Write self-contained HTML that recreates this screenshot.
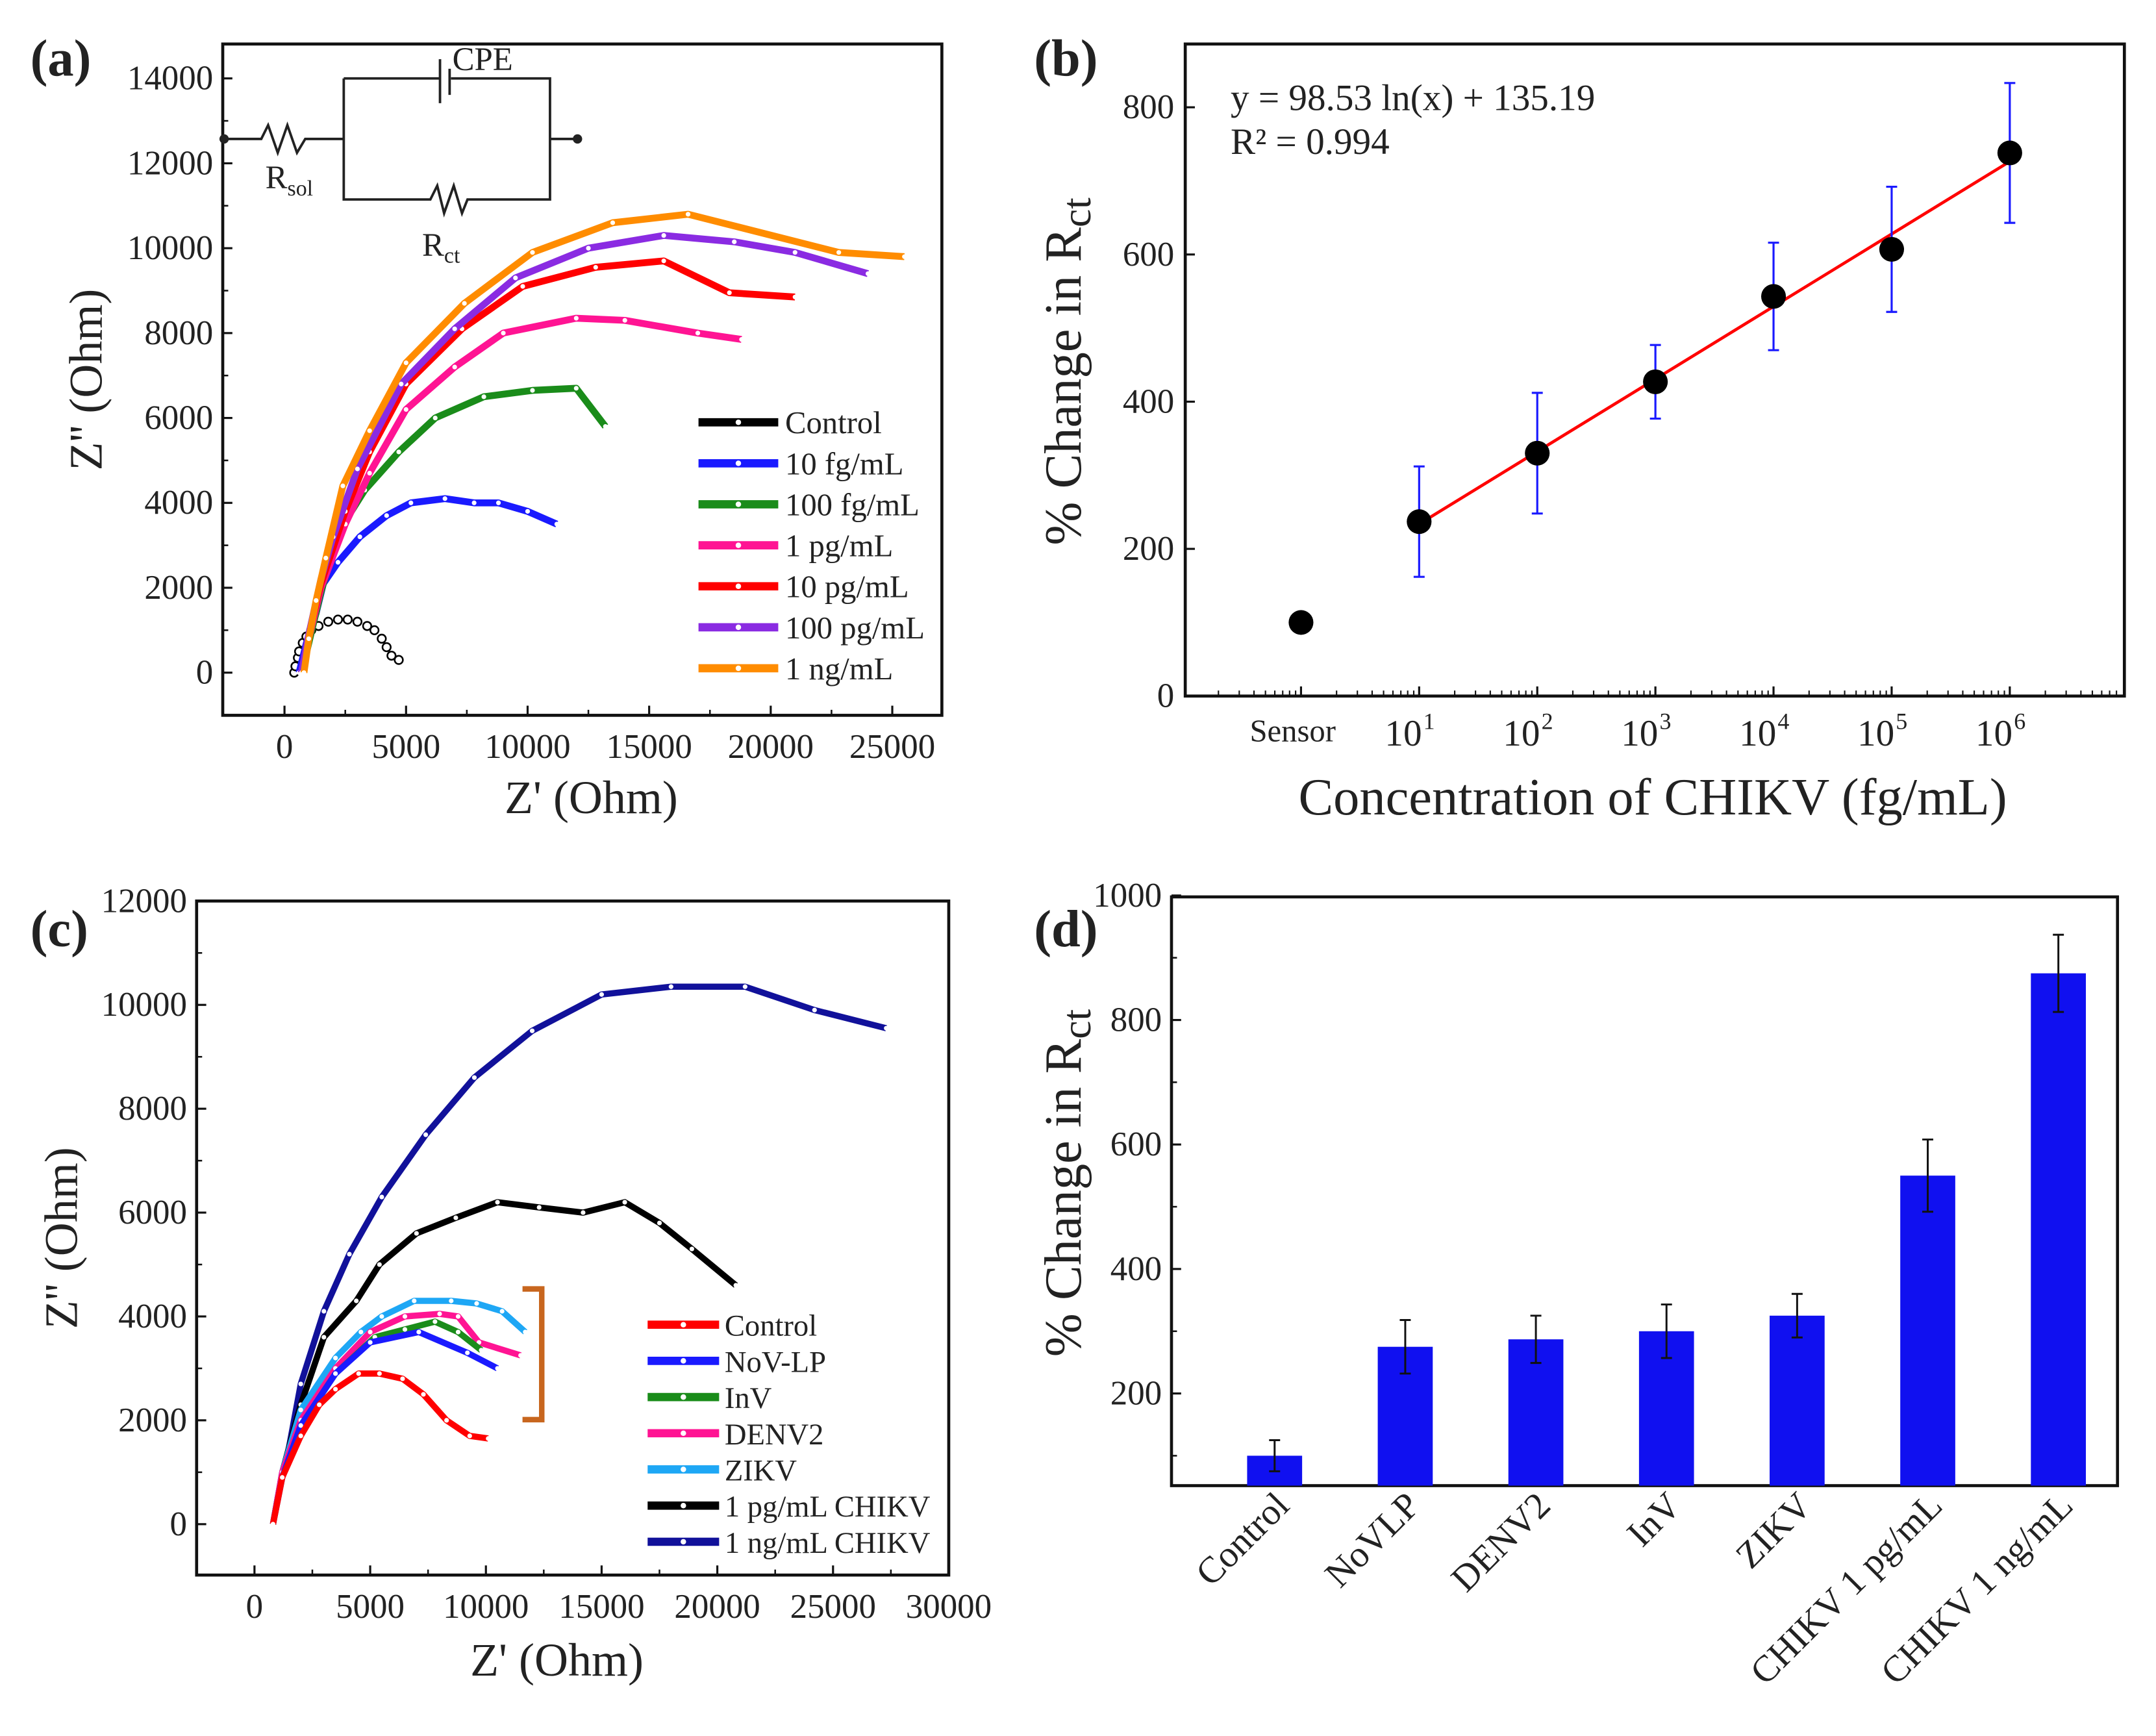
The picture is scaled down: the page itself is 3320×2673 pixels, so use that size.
<!DOCTYPE html>
<html><head><meta charset="utf-8"><style>
html,body{margin:0;padding:0;background:#fff;}
svg{display:block;}
text{font-family:"Liberation Serif",serif;fill:#222;}
</style></head><body>
<svg id="fig" width="3320" height="2673" viewBox="0 0 1568 1262" preserveAspectRatio="none" xmlns="http://www.w3.org/2000/svg">
<rect width="1568" height="1262" fill="#fff"/>
<text x="22" y="55" font-size="38" font-weight="bold">(a)</text>
<text x="752" y="55" font-size="38" font-weight="bold">(b)</text>
<text x="22" y="688" font-size="38" font-weight="bold">(c)</text>
<text x="752" y="688" font-size="38" font-weight="bold">(d)</text>
<g id="ga"></g><g id="gb"></g><g id="gc"></g><g id="gd"></g>
<g stroke="#222" stroke-width="1.8" fill="none">
<circle cx="163" cy="101" r="2.5" fill="#222"/>
<path d="M163 101 H190 L195 91 L202 111 L209 91 L216 111 L222 101 H250"/>
<path d="M250 57 H320 M328 57 H400 V145 H340 L336 155 L330 135 L323 155 L318 135 L313 145 H250 V57"/>
<path d="M320 43 V75 M327 50 V69"/>
<path d="M400 101 H420"/><circle cx="420" cy="101" r="2.5" fill="#222"/>
</g>
<text x="329" y="51" font-size="24">CPE</text>
<text x="193" y="137" font-size="24">R<tspan font-size="16" dy="5">sol</tspan></text>
<text x="307" y="186" font-size="24">R<tspan font-size="16" dy="5">ct</tspan></text>
<text x="895" y="80" font-size="27">y = 98.53 ln(x) + 135.19</text>
<text x="895" y="112" font-size="27">R² = 0.994</text>
<path d="M380 937 H394 V1032 H380" stroke="#c8661e" stroke-width="4" fill="none"/>
</svg>
<script>
// ---------- Panel A data ----------
const aNames=["Control","10 fg/mL","100 fg/mL","1 pg/mL","10 pg/mL","100 pg/mL","1 ng/mL"];
const aColors=["#000","#1a1aff","#1a8c1a","#ff1493","#ff0000","#8a2be2","#ff8c00"];
const aCtrlX=[400,450,550,600,750,900,1100,1400,1800,2200,2600,3000,3400,3700,4000,4200,4400,4700];
const aCtrlY=[0,150,350,500,700,850,1000,1100,1200,1250,1250,1200,1100,1000,800,600,400,300];
const a10fX=[600,900,1300,1600,2200,3100,4200,5200,6600,7800,8800,10000,11200];
const a10fY=[0,700,1400,2100,2600,3200,3700,4000,4100,4000,4000,3800,3500];
const a100fX=[700,1000,1500,2200,3300,4700,6200,8200,10200,12000,13200];
const a100fY=[0,700,1900,3300,4300,5200,6000,6500,6650,6700,5800];
const a1pX=[700,1000,1500,2500,3500,5000,7000,9000,12000,14000,17000,18800];
const a1pY=[0,800,2000,3500,4700,6200,7200,8000,8350,8300,8000,7850];
const a10pX=[700,1000,1500,2500,3500,5000,7300,9800,12800,15600,18300,21000];
const a10pY=[0,900,2100,3800,5200,6800,8100,9100,9550,9700,8950,8850];
const a100pX=[700,1000,1500,2000,3000,4800,7000,9500,12500,15600,18500,21000,24000];
const a100pY=[0,900,2200,3200,4800,6800,8100,9300,10000,10300,10150,9900,9400];
const a1nX=[800,1000,1300,1700,2400,3500,5000,7400,10200,13500,16600,22800,25500];
const a1nY=[0,800,1700,2700,4400,5700,7300,8700,9900,10600,10800,9900,9800];
const aXTicks=[0,5000,10000,15000,20000,25000];
const aYTicks=[0,2000,4000,6000,8000,10000,12000,14000];
// ---------- Panel B data ----------
const bLog=[0,1,2,3,4,5,6];
const bVal=[100,237,330,427,543,607,738];
const bErr=[12,75,82,50,73,85,95];
const bXLabels=["Sensor","1","2","3","4","5","6"];
const bYTicks=[0,200,400,600,800];
const bSlope=98.53, bIntercept=135.19;
// ---------- Panel C data ----------
const cNames=["Control","NoV-LP","InV","DENV2","ZIKV","1 pg/mL CHIKV","1 ng/mL CHIKV"];
const cColors=["#ff0000","#1a1aff","#1a8c1a","#ff1493","#1ea7f5","#000","#11119a"];
const cCtrlX=[800,1200,2000,2800,3500,4500,5400,6400,7300,8300,9300,10100];
const cCtrlY=[0,900,1700,2300,2600,2900,2900,2800,2500,2000,1700,1650];
const cNovX=[800,1200,2000,3500,5000,7100,9200,10500];
const cNovY=[0,900,1900,2900,3500,3700,3300,3000];
const cInvX=[800,1200,2000,3500,5200,6500,7800,8800,9800];
const cInvY=[0,900,1900,2900,3600,3750,3900,3700,3350];
const cDenX=[800,1200,2000,3500,5000,6500,8000,8800,9700,11500];
const cDenY=[0,1000,2000,3000,3700,4000,4050,4000,3500,3250];
const cZikX=[800,1200,2000,3500,4600,5500,6900,8500,9600,10700,11700];
const cZikY=[0,1000,2200,3200,3700,4000,4300,4300,4250,4100,3700];
const cPgX=[800,1200,2000,3000,4400,5400,7000,8700,10500,12300,14200,16000,17500,18900,20800];
const cPgY=[0,1000,2300,3600,4300,5000,5600,5900,6200,6100,6000,6200,5800,5300,4600];
const cNgX=[800,1000,1500,2000,3000,4100,5500,7400,9500,12000,15000,18000,21200,24200,27300];
const cNgY=[0,500,1500,2700,4100,5200,6300,7500,8600,9500,10200,10350,10350,9900,9550];
const cXTicks=[0,5000,10000,15000,20000,25000,30000];
const cYTicks=[0,2000,4000,6000,8000,10000,12000];
// ---------- Panel D data ----------
const dCats=["Control","NoVLP","DENV2","InV","ZIKV","CHIKV 1 pg/mL","CHIKV 1 ng/mL"];
const dVals=[100,275,287,300,325,550,875];
const dErrs=[25,43,38,43,35,58,62];
const dYTicks=[200,400,600,800,1000];

const NS="http://www.w3.org/2000/svg";
function mk(parent,tag,attrs){const e=document.createElementNS(NS,tag);for(const k in attrs)e.setAttribute(k,attrs[k]);parent.appendChild(e);return e;}
function lin(d0,d1,r0,r1){return v=>r0+(v-d0)*(r1-r0)/(d1-d0);}
const TK=25;

// ===== Panel A =====
(function(){
const g=document.getElementById('ga');
const L=162,R=685,T=32,B=520;
const sx=lin(-2540,27040,L,R), sy=lin(-1005,14810,B,T);
const box=mk(g,'rect',{x:L,y:T,width:R-L,height:B-T,fill:'none',stroke:'#111','stroke-width':2.2});

aXTicks.forEach(v=>{const x=sx(v);mk(g,'line',{x1:x,x2:x,y1:B,y2:B-7,stroke:'#111','stroke-width':1.5});
 const t=mk(g,'text',{x:x,y:B+31,'font-size':TK,'text-anchor':'middle'});t.textContent=v;
 
 if(sx(v+2500)<R-2)mk(g,'line',{x1:sx(v+2500),x2:sx(v+2500),y1:B,y2:B-4,stroke:'#111','stroke-width':1.2});});
aYTicks.forEach(v=>{const y=sy(v);mk(g,'line',{x1:L,x2:L+7,y1:y,y2:y,stroke:'#111','stroke-width':1.5});
 const t=mk(g,'text',{x:L-7,y:y+8,'font-size':TK,'text-anchor':'end'});t.textContent=v;
 
 if(sy(v+1000)>T+2)mk(g,'line',{x1:L,x2:L+4,y1:sy(v+1000),y2:sy(v+1000),stroke:'#111','stroke-width':1.2});});
let t=mk(g,'text',{x:430,y:591,'font-size':34,'text-anchor':'middle'});t.textContent="Z' (Ohm)";

t=mk(g,'text',{x:0,y:0,'font-size':34,'text-anchor':'middle',transform:'translate(74,276) rotate(-90)'});t.textContent="Z'' (Ohm)";

const xs=[aCtrlX,a10fX,a100fX,a1pX,a10pX,a100pX,a1nX], ys=[aCtrlY,a10fY,a100fY,a1pY,a10pY,a100pY,a1nY];
xs.forEach((X,i)=>{
 const pts=X.map((x,j)=>sx(x)+','+sy(ys[i][j])).join(' ');
 if(i>0){const pl=mk(g,'polyline',{points:pts,fill:'none',stroke:aColors[i],'stroke-width':5,'stroke-linejoin':'round'});
  }
 X.forEach((x,j)=>{const c=mk(g,'circle',{cx:sx(x),cy:sy(ys[i][j]),r:i==0?3:1.7,fill:'#fff',stroke:i==0?'#000':'none','stroke-width':1.2});
  });
});
aNames.forEach((n,i)=>{const y=307+i*29.8;
 mk(g,'line',{x1:508,x2:566,y1:y,y2:y,stroke:aColors[i],'stroke-width':6});
 mk(g,'circle',{cx:537,cy:y,r:2,fill:'#fff'});
 const tt=mk(g,'text',{x:571,y:y+8,'font-size':23});tt.textContent=n;
 });
})();

// ===== Panel B =====
(function(){
const g=document.getElementById('gb');
const L=862,R=1545,T=32,B=506;
const sx=lin(-0.98,6.97,L,R), sy=lin(0,800,B,78);
const box=mk(g,'rect',{x:L,y:T,width:R-L,height:B-T,fill:'none',stroke:'#111','stroke-width':2.2});

bYTicks.forEach(v=>{const y=sy(v);mk(g,'line',{x1:L,x2:L+7,y1:y,y2:y,stroke:'#111','stroke-width':1.5});
 const t=mk(g,'text',{x:L-8,y:y+8,'font-size':TK,'text-anchor':'end'});t.textContent=v;
 });
for(let k=-1;k<=7;k++){if(sx(k)>L&&sx(k)<R)mk(g,'line',{x1:sx(k),x2:sx(k),y1:B,y2:B-7,stroke:'#111','stroke-width':1.5});
 for(let m=2;m<=9;m++){const x=sx(k+Math.log10(m)-1);if(x>L+2&&x<R-2)mk(g,'line',{x1:x,x2:x,y1:B,y2:B-4,stroke:'#111','stroke-width':1});}}
bLog.forEach((k,i)=>{const x=sx(k);
 if(i==0){const t=mk(g,'text',{x:x-6,y:B+33,'font-size':23,'text-anchor':'middle'});t.textContent=bXLabels[i];
  }
 else{const t=mk(g,'text',{x:x+2,y:B+36,'font-size':27,'text-anchor':'end'});t.textContent='10';
  
  const s=mk(g,'text',{x:x+3,y:B+24,'font-size':17});s.textContent=bXLabels[i];
  }});
let t=mk(g,'text',{x:1202,y:592,'font-size':38,'text-anchor':'middle'});t.textContent="Concentration of CHIKV (fg/mL)";

t=mk(g,'text',{x:0,y:0,'font-size':38,'text-anchor':'middle',transform:'translate(786,270) rotate(-90)'});t.textContent="% Change in R";
const s=mk(t,'tspan',{dy:7,'font-size':30});s.textContent='ct';

const fl=mk(g,'line',{x1:sx(bLog[1]),y1:sy(bSlope*bLog[1]+bIntercept),x2:sx(bLog[6]),y2:sy(bSlope*bLog[6]+bIntercept),stroke:'#ff0000','stroke-width':2.2});

bLog.forEach((k,i)=>{const x=sx(k);
 const e=mk(g,'path',{d:`M${x} ${sy(bVal[i]-bErr[i])} V${sy(bVal[i]+bErr[i])} M${x-4} ${sy(bVal[i]-bErr[i])} h8 M${x-4} ${sy(bVal[i]+bErr[i])} h8`,stroke:'#1a1aff','stroke-width':1.5,fill:'none'});
 
 const c=mk(g,'circle',{cx:x,cy:sy(bVal[i]),r:9,fill:'#000'});
 });
})();

// ===== Panel C =====
(function(){
const g=document.getElementById('gc');
const L=143,R=690,T=655,B=1145;
const sx=lin(-2500,30000,L,R), sy=lin(-980,12000,B,T);
const box=mk(g,'rect',{x:L,y:T,width:R-L,height:B-T,fill:'none',stroke:'#111','stroke-width':2.2});

cXTicks.forEach(v=>{const x=sx(v);mk(g,'line',{x1:x,x2:x,y1:B,y2:B-7,stroke:'#111','stroke-width':1.5});
 const t=mk(g,'text',{x:x,y:B+31,'font-size':TK,'text-anchor':'middle'});t.textContent=v;
 
 if(v<30000)mk(g,'line',{x1:sx(v+2500),x2:sx(v+2500),y1:B,y2:B-4,stroke:'#111','stroke-width':1.2});});
cYTicks.forEach(v=>{const y=sy(v);mk(g,'line',{x1:L,x2:L+7,y1:y,y2:y,stroke:'#111','stroke-width':1.5});
 const t=mk(g,'text',{x:L-7,y:y+8,'font-size':TK,'text-anchor':'end'});t.textContent=v;
 
 if(v<12000)mk(g,'line',{x1:L,x2:L+4,y1:sy(v+1000),y2:sy(v+1000),stroke:'#111','stroke-width':1.2});});
let t=mk(g,'text',{x:405,y:1218,'font-size':34,'text-anchor':'middle'});t.textContent="Z' (Ohm)";

t=mk(g,'text',{x:0,y:0,'font-size':34,'text-anchor':'middle',transform:'translate(56,900) rotate(-90)'});t.textContent="Z'' (Ohm)";

const xs=[cCtrlX,cNovX,cInvX,cDenX,cZikX,cPgX,cNgX], ys=[cCtrlY,cNovY,cInvY,cDenY,cZikY,cPgY,cNgY];
[6,5,4,3,2,1,0].forEach(i=>{const X=xs[i];
 const pl=mk(g,'polyline',{points:X.map((x,j)=>sx(x)+','+sy(ys[i][j])).join(' '),fill:'none',stroke:cColors[i],'stroke-width':4.5,'stroke-linejoin':'round'});
 
 X.forEach((x,j)=>{const c=mk(g,'circle',{cx:sx(x),cy:sy(ys[i][j]),r:1.7,fill:'#fff'});
  });});
cNames.forEach((n,i)=>{const y=963+i*26.3;
 mk(g,'line',{x1:471,x2:523,y1:y,y2:y,stroke:cColors[i],'stroke-width':6});
 mk(g,'circle',{cx:497,cy:y,r:2,fill:'#fff'});
 const tt=mk(g,'text',{x:527,y:y+8,'font-size':22});tt.textContent=n;
 });
})();

// ===== Panel D =====
(function(){
const g=document.getElementById('gd');
const L=852,R=1540,T=652,B=1080;
const sy=lin(200,1000,1013,651);
const box=mk(g,'rect',{x:L,y:T,width:R-L,height:B-T,fill:'none',stroke:'#111','stroke-width':2.2});

dYTicks.forEach(v=>{const y=sy(v);mk(g,'line',{x1:L,x2:L+7,y1:y,y2:y,stroke:'#111','stroke-width':1.5});
 const t=mk(g,'text',{x:L-7,y:y+8,'font-size':TK,'text-anchor':'end'});t.textContent=v;
 
 if(v<1000)mk(g,'line',{x1:L,x2:L+4,y1:sy(v+100),y2:sy(v+100),stroke:'#111','stroke-width':1.2});});
mk(g,'line',{x1:L,x2:L+4,y1:sy(100),y2:sy(100),stroke:'#111','stroke-width':1.2});
let t=mk(g,'text',{x:0,y:0,'font-size':38,'text-anchor':'middle',transform:'translate(786,860) rotate(-90)'});t.textContent="% Change in R";
const s=mk(t,'tspan',{dy:7,'font-size':30});s.textContent='ct';

const x0=927, step=95;
dCats.forEach((c,i)=>{const x=x0+step*i;
 const bar=mk(g,'rect',{x:x-20,y:sy(dVals[i]),width:40,height:B-sy(dVals[i]),fill:'#1010f0'});
 
 const e=mk(g,'path',{d:`M${x} ${sy(dVals[i]-dErrs[i])} V${sy(dVals[i]+dErrs[i])} M${x-4} ${sy(dVals[i]-dErrs[i])} h8 M${x-4} ${sy(dVals[i]+dErrs[i])} h8`,stroke:'#111','stroke-width':1.4,fill:'none'});
 
 const tt=mk(g,'text',{x:0,y:0,'font-size':27,'text-anchor':'end',transform:`translate(${x+12},${B+16}) rotate(-45)`});tt.textContent=c;
 });
})();
</script>
</body></html>
